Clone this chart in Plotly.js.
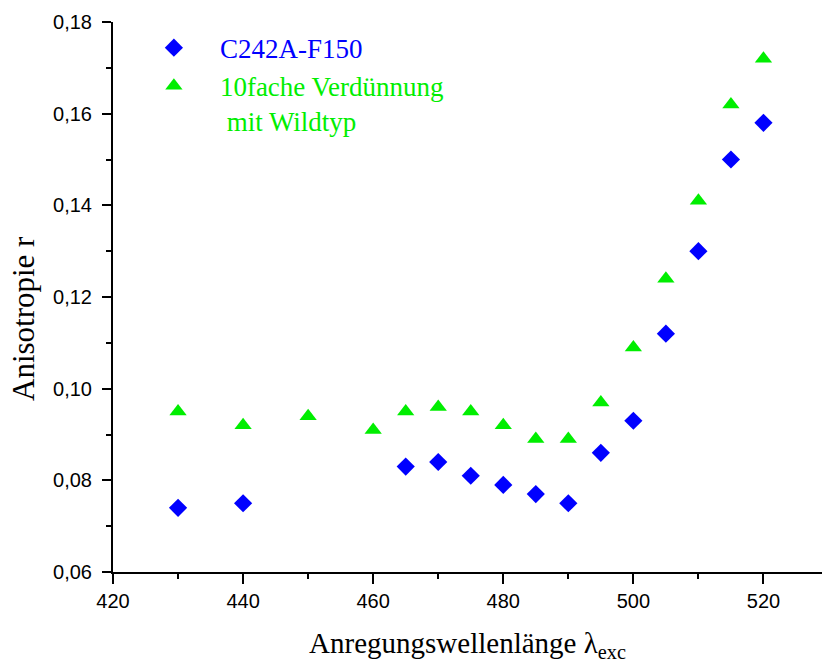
<!DOCTYPE html>
<html>
<head>
<meta charset="utf-8">
<script src="https://cdn.plot.ly/plotly-3.0.1.min.js"></script>
<style>html,body{margin:0;padding:0;background:#fff;}</style>
</head>
<body>
<div id="chart" style="width:822px;height:663px;"></div>
<script>
const wavelengthsBlue = [430, 440, 465, 470, 475, 480, 485, 490, 495, 500, 505, 510, 515, 520];
const anisotropyBlue = [0.074, 0.075, 0.083, 0.084, 0.081, 0.079, 0.077, 0.075, 0.086, 0.093, 0.112, 0.130, 0.150, 0.158];
const wavelengthsGreen = [430, 440, 450, 460, 465, 470, 475, 480, 485, 490, 495, 500, 505, 510, 515, 520];
const anisotropyGreen = [0.095, 0.092, 0.094, 0.091, 0.095, 0.096, 0.095, 0.092, 0.089, 0.089, 0.097, 0.109, 0.124, 0.141, 0.162, 0.172];
const seriesNames = ['C242A-F150', '10fache Verdünnung<br> mit Wildtyp'];
const xTitle = 'Anregungswellenlänge λ<sub>exc</sub>';
const yTitle = 'Anisotropie r';

const blue = '#0000ff';
const green = '#00ee00';
const serif = 'Liberation Serif';
const sans = 'Liberation Sans';

const traces = [
  {x: wavelengthsBlue, y: anisotropyBlue, type: 'scatter', mode: 'markers',
   name: '<span style="color:' + blue + '">' + seriesNames[0] + '</span>', legendgroup: 'a',
   marker: {symbol: 'diamond', size: 14, color: blue}},
  {x: wavelengthsGreen, y: anisotropyGreen, type: 'scatter', mode: 'markers',
   name: '<span style="color:' + green + '">' + seriesNames[1] + '</span>', legendgroup: 'b',
   marker: {symbol: 'triangle-up', size: 15, color: green}}
];

const layout = {
  width: 822, height: 663,
  margin: {l: 113, r: 0, t: 22, b: 91},
  separators: ', ',
  paper_bgcolor: '#fff', plot_bgcolor: '#fff',
  font: {family: sans, size: 18, color: '#000'},
  xaxis: {
    range: [420, 529], showgrid: false, zeroline: false,
    showline: true, linecolor: '#000', linewidth: 2,
    ticks: 'outside', ticklen: 10, tickwidth: 2, tickcolor: '#000',
    tick0: 420, dtick: 20,
    minor: {ticks: 'outside', ticklen: 5, tickwidth: 2, tickcolor: '#000', dtick: 10},
    tickfont: {family: sans, size: 20},
    title: {text: xTitle, standoff: 25, font: {family: serif, size: 29}}
  },
  yaxis: {
    range: [0.06, 0.18], showgrid: false, zeroline: false,
    showline: true, linecolor: '#000', linewidth: 2,
    ticks: 'outside', ticklen: 9, tickwidth: 2, tickcolor: '#000',
    tick0: 0.06, dtick: 0.02, tickformat: '.2f',
    ticklabelstandoff: 6,
    minor: {ticks: 'outside', ticklen: 5, tickwidth: 2, tickcolor: '#000', dtick: 0.01},
    tickfont: {family: sans, size: 20}
  },
  annotations: [
    {text: yTitle, xref: 'paper', yref: 'paper', x: -90 / 709, y: (572 - 319) / 550,
     xanchor: 'center', yanchor: 'middle', textangle: -90, showarrow: false,
     font: {family: serif, size: 31, color: '#000'}}
  ],
  showlegend: true,
  legend: {
    x: 0.021, y: 0.997, xanchor: 'left', yanchor: 'top',
    bgcolor: 'rgba(0,0,0,0)', borderwidth: 0,
    font: {family: serif, size: 27, color: '#000'},
    itemwidth: 82, tracegroupgap: 0, valign: 'top'
  }
};

Plotly.newPlot('chart', traces, layout, {displayModeBar: false, staticPlot: true});
</script>
</body>
</html>
